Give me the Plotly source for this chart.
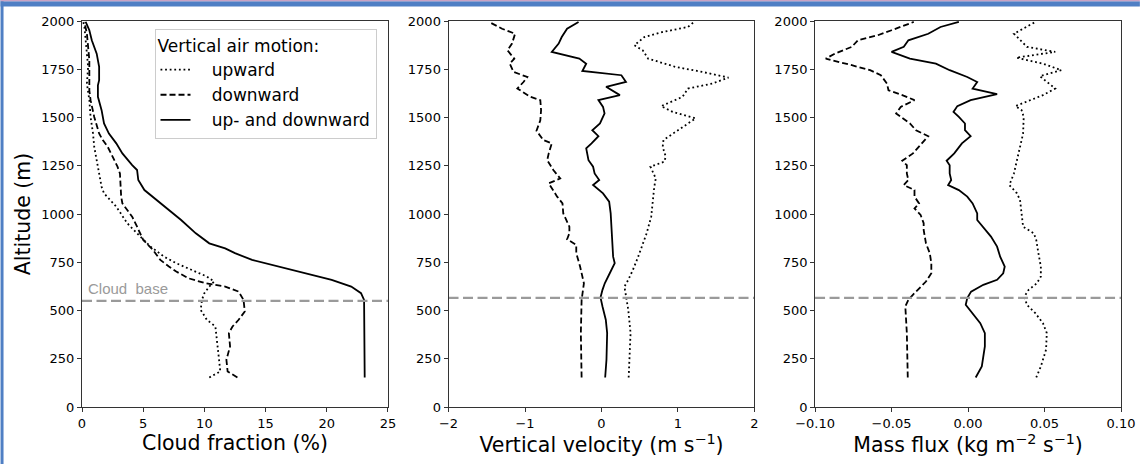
import plotly.graph_objects as go
from plotly.subplots import make_subplots

# ---------------- data ----------------
# Panel 1: cloud fraction (%)
cf_up_alt = [153, 184, 245, 314, 383, 417, 452, 503, 555, 590, 624, 650, 676, 710, 745, 779, 831, 900, 952,
             1038, 1107, 1141, 1210, 1279, 1348, 1417, 1503, 1590, 1676, 1762, 1831, 1900, 1969, 1995]
cf_up = [10.4, 11.3, 11.2, 11.1, 11.0, 10.9, 10.2, 9.7, 9.8, 10.0, 10.4, 10.8, 10.2, 9.0, 7.7, 6.7, 5.6, 4.5, 3.7,
         2.8, 1.8, 1.6, 1.4, 1.2, 1.0, 0.9, 0.7, 0.6, 0.4, 0.5, 0.4, 0.35, 0.2, 0.1]

cf_down_alt = [153, 184, 245, 314, 383, 417, 452, 495, 555, 598, 624, 641, 667, 702, 728, 762, 814, 866, 934,
               986, 1055, 1090, 1210, 1245, 1297, 1348, 1383, 1417, 1503, 1590, 1641, 1710, 1797, 1866, 1934, 1995]
cf_down = [12.7, 11.9, 11.8, 12.1, 12.0, 12.3, 12.8, 13.3, 13.2, 12.8, 11.7, 10.1, 8.7, 7.7, 7.1, 6.4, 5.8, 5.0, 4.5,
           4.1, 3.3, 3.2, 3.1, 2.9, 2.5, 2.1, 1.7, 1.4, 1.0, 0.7, 0.6, 0.6, 0.6, 0.5, 0.4, 0.2]

cf_all_alt = [153, 250, 400, 555, 590, 624, 659, 693, 728, 762, 797, 822, 848, 900, 969, 1038, 1090, 1124, 1176,
              1228, 1253, 1314, 1366, 1417, 1469, 1538, 1607, 1667, 1693, 1762, 1831, 1900, 1952, 1995]
cf_all = [23.1, 23.1, 23.1, 23.05, 22.8, 22.0, 20.4, 18.2, 16.0, 13.9, 12.5, 11.7, 10.4, 9.3, 8.1, 6.8, 5.8, 5.1, 4.6,
          4.5, 4.1, 3.3, 2.8, 2.2, 1.8, 1.6, 1.3, 1.3, 1.4, 1.4, 1.2, 0.8, 0.6, 0.3]

# Panel 2: vertical velocity (m/s)
w_up_alt = [153, 383, 503, 567, 624, 659, 710, 779, 831, 900, 986, 1072, 1141, 1184, 1245, 1271, 1297, 1348, 1383,
            1434, 1495, 1529, 1559, 1607, 1650, 1676, 1707, 1736, 1762, 1805, 1848, 1874, 1917, 1943, 1969, 1995]
w_up = [0.355, 0.38, 0.35, 0.32, 0.30, 0.35, 0.41, 0.48, 0.53, 0.59, 0.65, 0.67, 0.69, 0.71, 0.64, 0.82, 0.84, 0.80, 0.81,
        1.0, 1.23, 0.93, 0.78, 1.06, 1.13, 1.45, 1.66, 1.32, 0.97, 0.61, 0.54, 0.43, 0.56, 0.80, 1.13, 1.21]

w_down_alt = [153, 383, 555, 641, 728, 797, 840, 869, 900, 934, 1003, 1055, 1090, 1133, 1159, 1184, 1228, 1279, 1314,
              1366, 1383, 1431, 1486, 1538, 1590, 1607, 1650, 1684, 1710, 1736, 1779, 1805, 1848, 1883, 1934, 1960, 1995]
w_down = [-0.26, -0.27, -0.26, -0.23, -0.28, -0.33, -0.33, -0.45, -0.42, -0.42, -0.50, -0.51, -0.58, -0.65, -0.69,
          -0.54, -0.63, -0.71, -0.69, -0.65, -0.76, -0.85, -0.80, -0.79, -0.80, -0.93, -1.10, -1.02, -0.97, -1.15,
          -1.20, -1.14, -1.23, -1.17, -1.13, -1.30, -1.47]

w_all_alt = [153, 245, 383, 452, 521, 567, 607, 641, 693, 745, 779, 866, 934, 1003, 1064, 1107, 1150, 1176, 1210,
             1245, 1279, 1340, 1366, 1403, 1434, 1469, 1521, 1555, 1590, 1616, 1659, 1684, 1719, 1741, 1779, 1805,
             1840, 1883, 1917, 1960, 1995]
w_all = [0.048, 0.065, 0.074, 0.056, 0.013, -0.013, 0.013, 0.043, 0.108, 0.173, 0.152, 0.143, 0.13, 0.12, 0.10, 0.02,
         -0.11, -0.03, -0.09, -0.11, -0.17, -0.20, -0.13, -0.04, -0.12, -0.02, 0.04, 0.02, -0.04, 0.24, 0.06, 0.32,
         0.26, -0.25, -0.20, -0.29, -0.65, -0.56, -0.52, -0.45, -0.30]

# Panel 3: mass flux (kg m-2 s-1)
mf_up_alt = [153, 210, 297, 383, 434, 486, 529, 572, 607, 641, 676, 728, 797, 866, 900, 934, 1003, 1072, 1107, 1150,
             1210, 1279, 1348, 1417, 1503, 1538, 1559, 1590, 1616, 1650, 1684, 1714, 1745, 1779, 1810, 1840, 1866,
             1900, 1934, 1960, 1995]
mf_up = [0.0446, 0.0476, 0.051, 0.0515, 0.049, 0.044, 0.0385, 0.0368, 0.0396, 0.045, 0.0476, 0.0476, 0.046, 0.0446,
         0.043, 0.036, 0.035, 0.034, 0.032, 0.027, 0.030, 0.032, 0.034, 0.036, 0.0364, 0.035, 0.031, 0.0407, 0.049,
         0.057, 0.0515, 0.047, 0.061, 0.049, 0.0316, 0.057, 0.0385, 0.034, 0.030, 0.036, 0.044]

mf_down_alt = [153, 383, 521, 555, 590, 624, 650, 693, 745, 797, 848, 917, 952, 995, 1029, 1055, 1090, 1124, 1150,
               1176, 1210, 1253, 1276, 1314, 1357, 1403, 1434, 1469, 1521, 1555, 1590, 1616, 1641, 1676, 1719, 1745,
               1771, 1805, 1831, 1866, 1900, 1926, 1952, 1995]
mf_down = [-0.0394, -0.040, -0.041, -0.039, -0.035, -0.031, -0.0275, -0.024, -0.024, -0.025, -0.0275, -0.029, -0.029,
           -0.031, -0.035, -0.032, -0.035, -0.035, -0.042, -0.039, -0.040, -0.040, -0.043, -0.036, -0.031, -0.026,
           -0.034, -0.038, -0.047, -0.044, -0.035, -0.043, -0.052, -0.053, -0.057, -0.064, -0.076, -0.093, -0.087,
           -0.076, -0.072, -0.059, -0.050, -0.0355]

mf_all_alt = [153, 210, 314, 383, 434, 486, 529, 564, 598, 633, 659, 693, 728, 779, 831, 883, 934, 969, 1003, 1055,
              1090, 1124, 1150, 1176, 1210, 1253, 1276, 1314, 1366, 1403, 1434, 1469, 1503, 1529, 1559, 1590, 1621,
              1650, 1684, 1710, 1745, 1779, 1805, 1840, 1866, 1900, 1934, 1969, 1995]
mf_all = [0.005, 0.009, 0.011, 0.011, 0.008, 0.003, -0.0015, -0.0005, 0.002, 0.010, 0.019, 0.023, 0.024, 0.021, 0.019,
          0.015, 0.010, 0.006, 0.006, 0.003, -0.0005, -0.006, -0.013, -0.011, -0.012, -0.012, -0.014, -0.009, -0.004,
          0.0017, -0.002, -0.002, -0.006, -0.0095, -0.007, 0.0017, 0.019, 0.003, 0.006, -0.0005, -0.012, -0.021,
          -0.038, -0.050, -0.042, -0.039, -0.026, -0.018, -0.006]

cloud_base_cf = 550
cloud_base_other = 565

x_titles = ["Cloud fraction (%)", "Vertical velocity (m s<sup>−1</sup>)",
            "Mass flux (kg m<sup>−2</sup> s<sup>−1</sup>)"]
x_ranges = [[0, 25], [-2, 2], [-0.1, 0.1]]
x_dticks = [5, 1, 0.05]
x_formats = ["d", "d", ".2f"]
y_ticks = [0, 250, 500, 750, 1000, 1250, 1500, 1750, 2000]
legend_names = ["upward", "downward", "up- and downward"]

# ---------------- styles ----------------
FONT = "DejaVu Sans"
LW = 1.8
styles = [dict(color="black", width=LW, dash="1.8px,2.8px"),
          dict(color="black", width=LW, dash="6px,3px"),
          dict(color="black", width=LW, dash="solid")]

fig = make_subplots(rows=1, cols=3)

panels = [
    [(cf_up, cf_up_alt), (cf_down, cf_down_alt), (cf_all, cf_all_alt)],
    [(w_up, w_up_alt), (w_down, w_down_alt), (w_all, w_all_alt)],
    [(mf_up, mf_up_alt), (mf_down, mf_down_alt), (mf_all, mf_all_alt)],
]

for ci, panel in enumerate(panels):
    for si, (xv, yv) in enumerate(panel):
        fig.add_trace(go.Scatter(x=xv, y=yv, mode="lines", line=styles[si],
                                 name="\u00a0\u00a0\u00a0" + legend_names[si], showlegend=(ci == 0),
                                 legendgroup="g%d" % si,
                                 hoverinfo="skip"), row=1, col=ci + 1)
    cb = cloud_base_cf if ci == 0 else cloud_base_other
    fig.add_trace(go.Scatter(x=x_ranges[ci], y=[cb, cb], mode="lines",
                             line=dict(color="#9a9a9a", width=2.2, dash="10px,4.5px"),
                             showlegend=False, hoverinfo="skip", cliponaxis=False),
                  row=1, col=ci + 1)

W, H = 1147, 464
L, R, T, B = 82, 19, 21, 57
pw = W - L - R
domains = [[0, 308 / pw], [(451 - L) / pw, (759 - L) / pw], [(820 - L) / pw, 1.0]]

axis_common = dict(showline=True, linecolor="#333", linewidth=1, mirror=True,
                   ticks="outside", ticklen=4, tickcolor="#333", tickwidth=1,
                   showgrid=False, zeroline=False,
                   tickfont=dict(family=FONT, size=13, color="black"))

for i in range(3):
    fig.update_xaxes(domain=domains[i], range=x_ranges[i], dtick=x_dticks[i], tick0=x_ranges[i][0],
                     tickformat=x_formats[i],
                     title=dict(text=x_titles[i], font=dict(family=FONT, size=20.5, color="black"), standoff=4),
                     row=1, col=i + 1, **axis_common)
    fig.update_yaxes(range=[0, 2000], tickvals=y_ticks, row=1, col=i + 1, **axis_common)

fig.update_yaxes(title=dict(text="Altitude (m)", font=dict(family=FONT, size=20.5, color="black"), standoff=5),
                 row=1, col=1)

fig.add_annotation(x=0.3, y=612, xref="x", yref="y", text="Cloud\u00a0\u00a0base", showarrow=False,
                   xanchor="left", yanchor="middle",
                   font=dict(family="Liberation Sans", size=15, color="#9a9a9a"))

# blue screenshot frame
ph = H - T - B
def px2x(p):
    return (p - L) / pw
def py2y(p):
    return 1 - (p - T) / ph
fig.add_shape(type="rect", xref="paper", yref="paper", x0=px2x(0), x1=px2x(3), y0=py2y(H), y1=py2y(0),
              fillcolor="#4f7fc4", line=dict(width=0), layer="above")
fig.add_shape(type="rect", xref="paper", yref="paper", x0=px2x(0), x1=px2x(W), y0=py2y(6.5), y1=py2y(1.2),
              fillcolor="#4f7fc4", line=dict(width=0), layer="above")
fig.add_shape(type="rect", xref="paper", yref="paper", x0=px2x(0), x1=px2x(W), y0=py2y(1.2), y1=py2y(0),
              fillcolor="#c9a3c4", line=dict(width=0), layer="above")

fig.update_layout(
    width=W, height=H,
    margin=dict(l=L, r=R, t=T, b=B),
    paper_bgcolor="white", plot_bgcolor="white",
    font=dict(family=FONT, color="black"),
    legend=dict(x=px2x(155), y=py2y(29), xanchor="left", yanchor="top",
                bgcolor="rgba(255,255,255,0.85)", bordercolor="#cccccc", borderwidth=1,
                font=dict(family=FONT, size=17, color="black"),
                title=dict(text="Vertical air motion:", font=dict(family=FONT, size=17)),
                traceorder="grouped", tracegroupgap=0, itemwidth=30),
)

fig.write_html("out.html", config={"displayModeBar": False},
               post_script="document.body.style.margin='0';")
